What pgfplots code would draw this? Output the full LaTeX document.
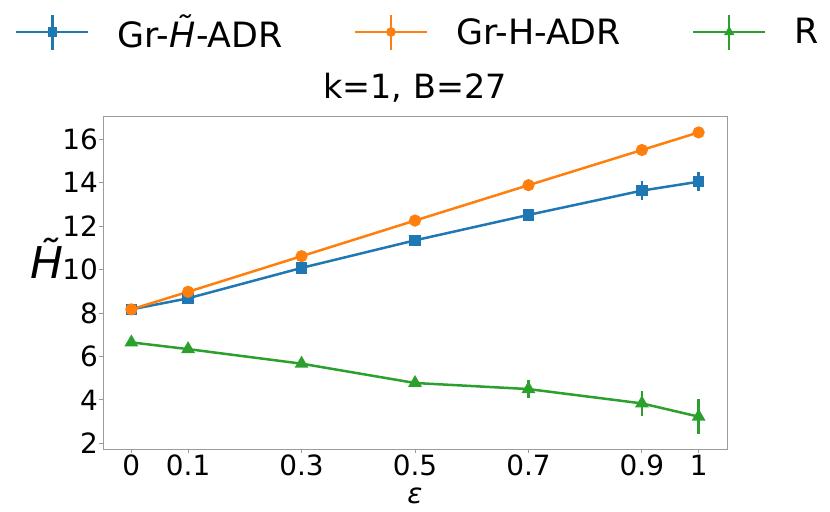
\documentclass[border=0pt]{standalone}
\usepackage{fontspec}
\setmainfont{DejaVu Sans}
\usepackage{pgfplots}
\pgfplotsset{compat=1.18}
\definecolor{cB}{HTML}{1F77B4}
\definecolor{cO}{HTML}{FF7F0E}
\definecolor{cG}{HTML}{2CA02C}
\definecolor{spine}{RGB}{155,155,155}
\pgfplotstableread{
x y e
0 8.17 0.05
0.1 8.68 0.08
0.3 10.08 0.1
0.5 11.35 0.12
0.7 12.52 0.15
0.9 13.64 0.42
1 14.05 0.45
}\blue
\pgfplotstableread{
x y e
0 8.17 0.04
0.1 8.98 0.05
0.3 10.62 0.06
0.5 12.26 0.08
0.7 13.89 0.1
0.9 15.51 0.1
1 16.32 0.1
}\orange
\pgfplotstableread{
x y e
0 6.65 0.1
0.1 6.34 0.1
0.3 5.67 0.15
0.5 4.78 0.2
0.7 4.50 0.42
0.9 3.84 0.57
1 3.23 0.80
}\green
\begin{document}
\begin{tikzpicture}
\path[use as bounding box] (0bp,0bp) rectangle (830bp,512bp);
\begin{axis}[
  at={(103bp,63bp)}, anchor=south west,
  scale only axis, width=624bp, height=332bp,
  xmin=-0.05, xmax=1.05, ymin=1.74, ymax=17.03,
  xtick={0,0.1,0.3,0.5,0.7,0.9,1},
  xticklabels={0,0.1,0.3,0.5,0.7,0.9,1},
  ytick={2,4,6,8,10,12,14,16},
  yticklabels={2,4,6,8,10,12,14,16},
  xtick pos=left, ytick pos=left,
  tick align=outside, major tick length=4bp,
  axis line style={spine, line width=1bp},
  tick style={spine, line width=1bp},
  /pgf/number format/assume math mode=true,
  xticklabel style={font=\fontsize{28}{28}\selectfont, inner sep=0pt, anchor=north, yshift=-2bp},
  yticklabel style={font=\fontsize{28}{28}\selectfont, inner sep=0pt, anchor=east, xshift=-1bp},
  title={k=1, B=27},
  title style={at={(0.5,1.038)}, anchor=base, font=\fontsize{33.5}{33.5}\selectfont, inner sep=0pt},
  xlabel={\itshape ε},
  every axis x label/.style={at={(0.5,-0.1627)}, anchor=base, font=\fontsize{28}{28}\selectfont, inner sep=0pt},
  ylabel={\itshape H^^^^0303},
  every axis y label/.style={at={(-0.0897,0.575)}, anchor=center, font=\fontsize{44}{44}\selectfont, inner sep=0pt},
  legend columns=3,
  legend style={at={(-0.141,1.256)}, anchor=west, draw=none, fill=none,
    inner sep=0pt, font=\fontsize{35}{35}\selectfont,
    nodes={inner sep=0pt},
    /tikz/every odd column/.append style={column sep=28bp},
    /tikz/every even column/.append style={column sep=71bp}},
  legend image code/.code={
    \draw[#1, mark=none] (0bp,0bp) -- (72bp,0bp);
    \draw[#1, mark=none] (36bp,-17.5bp) -- (36bp,17.5bp);
    \draw[#1, mark size=3.5bp] plot coordinates {(36bp,0bp)};
  },
  every axis plot/.append style={line width=2.5bp},
  error bars/y dir=both, error bars/y explicit,
  error bars/error mark=none,
  error bars/error bar style={line width=2.5bp},
]
\addplot[cB, mark=square*, mark size=4.5bp, mark options={solid}]
  table[x=x, y=y, y error=e] {\blue};
\addlegendentry{Gr-\textit{H^^^^0303}-ADR}
\addplot[cO, mark=*, mark size=4.8bp]
  table[x=x, y=y, y error=e] {\orange};
\addlegendentry{Gr-H-ADR}
\addplot[cG, mark=triangle*, mark size=5.5bp]
  table[x=x, y=y, y error=e] {\green};
\addlegendentry{R}
\end{axis}
\end{tikzpicture}
\end{document}
